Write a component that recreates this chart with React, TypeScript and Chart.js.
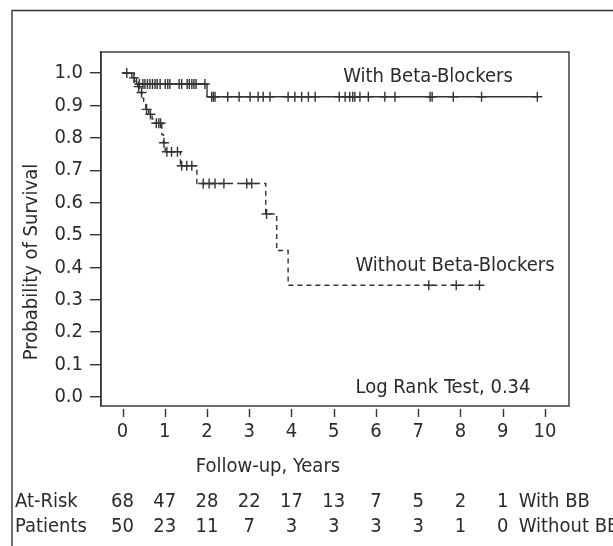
import { useEffect, useRef } from "react";
import { Chart, registerables } from "chart.js";

Chart.register(...registerables);

// ---- data ----
const X_TICKS = [0, 1, 2, 3, 4, 5, 6, 7, 8, 9, 10];
const Y_TICKS = [0, 0.1, 0.2, 0.3, 0.4, 0.5, 0.6, 0.7, 0.8, 0.9, 1.0];

const WITH_BB_TIMES = [0, 0.22, 0.33, 2.0, 9.82];
const WITH_BB_SURV = [1.0, 0.985, 0.966, 0.927, 0.927];
const WITH_BB_CENSOR = [
  0.1, 0.27, 0.4, 0.48, 0.53, 0.59, 0.65, 0.71, 0.77, 0.82, 0.89, 1.01, 1.07, 1.12,
  1.34, 1.4, 1.53, 1.58, 1.64, 1.69, 1.74, 1.95, 2.11, 2.15, 2.19, 2.49, 2.76, 3.02,
  3.21, 3.33, 3.49, 3.92, 4.08, 4.24, 4.4, 4.56, 5.13, 5.27, 5.38, 5.45, 5.5, 5.62,
  5.82, 6.21, 6.45, 7.28, 7.33, 7.83, 8.5, 9.82,
];

const WITHOUT_BB_TIMES = [
  0, 0.28, 0.36, 0.41, 0.46, 0.5, 0.55, 0.62, 0.7, 0.76, 0.93, 0.97, 1.01, 1.37, 1.76,
  3.39, 3.65, 3.92, 8.45,
];
const WITHOUT_BB_SURV = [
  1.0, 0.975, 0.958, 0.94, 0.922, 0.906, 0.888, 0.873, 0.858, 0.845, 0.81, 0.785, 0.757,
  0.714, 0.659, 0.565, 0.452, 0.345, 0.345,
];
const WITHOUT_BB_CENSOR = [
  0.38, 0.45, 0.57, 0.66, 0.8, 0.86, 0.9, 0.98, 1.05, 1.16, 1.3, 1.4, 1.52, 1.64, 1.91,
  2.05, 2.19, 2.4, 2.94, 3.06, 3.41, 7.25, 7.9, 8.45,
];

const AT_RISK_YEARS = [0, 1, 2, 3, 4, 5, 6, 7, 8, 9];
const AT_RISK_WITH = [68, 47, 28, 22, 17, 13, 7, 5, 2, 1];
const AT_RISK_WITHOUT = [50, 23, 11, 7, 3, 3, 3, 3, 1, 0];

const LABEL_WITH = "With Beta-Blockers";
const LABEL_WITHOUT = "Without Beta-Blockers";
const LABEL_LOGRANK = "Log Rank Test, 0.34";
const X_TITLE = "Follow-up, Years";
const Y_TITLE = "Probability of Survival";
const ROW_TITLE_1 = "At-Risk";
const ROW_TITLE_2 = "Patients";
const ROW_NAME_1 = "With BB";
const ROW_NAME_2 = "Without BB";

// ---- style ----
const FONT = '"Liberation Sans Narrow", "Arial Narrow", "DejaVu Sans Condensed", sans-serif';
const FS = 20;
const INK = "#2b2b2b";
const LINE = "#333333";

function survAt(times: number[], surv: number[], t: number) {
  let v = surv[0];
  for (let i = 0; i < times.length; i++) if (times[i] <= t) v = surv[i];
  return v;
}

const decorPlugin = {
  id: "decor",
  beforeDraw(chart: any) {
    const ctx = chart.ctx;
    ctx.save();
    ctx.fillStyle = "#fff";
    ctx.fillRect(0, 0, chart.width, chart.height);
    ctx.restore();
  },
  afterDraw(chart: any) {
    const ctx = chart.ctx;
    const a = chart.chartArea;
    const xs = chart.scales.x;
    ctx.save();
    ctx.strokeStyle = LINE;
    ctx.lineWidth = 1.4;
    // outer frame
    ctx.beginPath();
    ctx.moveTo(12, chart.height);
    ctx.lineTo(12, 10.5);
    ctx.lineTo(chart.width, 10.5);
    ctx.stroke();
    // plot box
    ctx.strokeRect(a.left, a.top, a.right - a.left, a.bottom - a.top);
    // x ticks (offset from box)
    ctx.beginPath();
    for (const t of xs.ticks) {
      const px = Math.round(xs.getPixelForValue(t.value)) + 0.5;
      ctx.moveTo(px, a.bottom + 3);
      ctx.lineTo(px, a.bottom + 11);
    }
    ctx.stroke();

    ctx.fillStyle = INK;
    ctx.font = `${FS}px ${FONT}`;
    ctx.textBaseline = "alphabetic";
    ctx.textAlign = "center";
    ctx.fillText(LABEL_WITH, 428, 82);
    ctx.fillText(LABEL_WITHOUT, 455, 270.5);
    ctx.fillText(LABEL_LOGRANK, 443, 393);
    ctx.fillText(X_TITLE, 268, 472);

    // y title
    ctx.save();
    ctx.translate(37, 262);
    ctx.rotate(-Math.PI / 2);
    ctx.fillText(Y_TITLE, 0, 0);
    ctx.restore();

    // at-risk table
    const row1 = 507;
    const row2 = 532;
    ctx.textAlign = "left";
    ctx.fillText(ROW_TITLE_1, 15, row1);
    ctx.fillText(ROW_TITLE_2, 15, row2);
    ctx.textAlign = "center";
    AT_RISK_YEARS.forEach((yr, i) => {
      const px = xs.getPixelForValue(yr);
      ctx.fillText(String(AT_RISK_WITH[i]), px, row1);
      ctx.fillText(String(AT_RISK_WITHOUT[i]), px, row2);
    });
    ctx.textAlign = "left";
    const lastPx = xs.getPixelForValue(AT_RISK_YEARS[AT_RISK_YEARS.length - 1]);
    ctx.fillText(ROW_NAME_1, lastPx + 16, row1);
    ctx.fillText(ROW_NAME_2, lastPx + 16, row2);
    ctx.restore();
  },
};

export default function App() {
  const ref = useRef<HTMLCanvasElement>(null);
  useEffect(() => {
    if (!ref.current) return;
    const withLine = WITH_BB_TIMES.map((t, i) => ({ x: t, y: WITH_BB_SURV[i] }));
    const withoutLine = WITHOUT_BB_TIMES.map((t, i) => ({ x: t, y: WITHOUT_BB_SURV[i] }));
    const withCens = WITH_BB_CENSOR.map((t) => ({ x: t, y: survAt(WITH_BB_TIMES, WITH_BB_SURV, t) }));
    const withoutCens = WITHOUT_BB_CENSOR.map((t) => ({
      x: t,
      y: survAt(WITHOUT_BB_TIMES, WITHOUT_BB_SURV, t),
    }));
    const chart = new Chart(ref.current, {
      type: "line",
      data: {
        datasets: [
          {
            data: withLine,
            stepped: true,
            borderColor: LINE,
            borderWidth: 1.4,
            pointRadius: 0,
            fill: false,
          },
          {
            data: withoutLine,
            stepped: true,
            borderColor: LINE,
            borderWidth: 1.4,
            borderDash: [5, 4],
            pointRadius: 0,
            fill: false,
          },
          {
            data: withCens,
            showLine: false,
            pointStyle: "cross",
            pointRadius: 5,
            pointBorderColor: LINE,
            pointBorderWidth: 1.4,
          },
          {
            data: withoutCens,
            showLine: false,
            pointStyle: "cross",
            pointRadius: 5,
            pointBorderColor: LINE,
            pointBorderWidth: 1.4,
          },
        ] as any,
      },
      options: {
        responsive: false,
        animation: false,
        events: [],
        layout: { padding: { left: 0, top: 52, right: 44, bottom: 0 } },
        plugins: { legend: { display: false }, tooltip: { enabled: false } },
        scales: {
          x: {
            type: "linear",
            min: -0.51,
            max: 10.57,
            afterBuildTicks: (s: any) => {
              s.ticks = X_TICKS.map((v) => ({ value: v }));
            },
            afterFit: (s: any) => {
              s.height = 140;
            },
            grid: { display: true, drawOnChartArea: false, drawTicks: true, tickLength: 11, color: "rgba(0,0,0,0)" },
            border: { display: false },
            ticks: { color: INK, font: { family: FONT, size: FS }, padding: 3, maxRotation: 0, autoSkip: false },
          },
          y: {
            type: "linear",
            min: -0.028,
            max: 1.065,
            afterBuildTicks: (s: any) => {
              s.ticks = Y_TICKS.map((v) => ({ value: v }));
            },
            afterFit: (s: any) => {
              s.width = 101;
            },
            grid: { display: true, drawOnChartArea: false, drawTicks: true, tickLength: 11, color: LINE, lineWidth: 1.4 },
            border: { display: true, color: LINE, width: 1.4 },
            ticks: {
              color: INK,
              font: { family: FONT, size: FS },
              padding: 7,
              autoSkip: false,
              callback: (v: any) => Number(v).toFixed(1),
            },
          },
        },
      },
      plugins: [decorPlugin],
    });
    return () => chart.destroy();
  }, []);
  return (
    <div style={{ position: "fixed", left: 0, top: 0, width: 613, height: 546, background: "#fff" }}>
      <canvas ref={ref} width={613} height={546} style={{ display: "block", width: 613, height: 546 }} />
    </div>
  );
}
